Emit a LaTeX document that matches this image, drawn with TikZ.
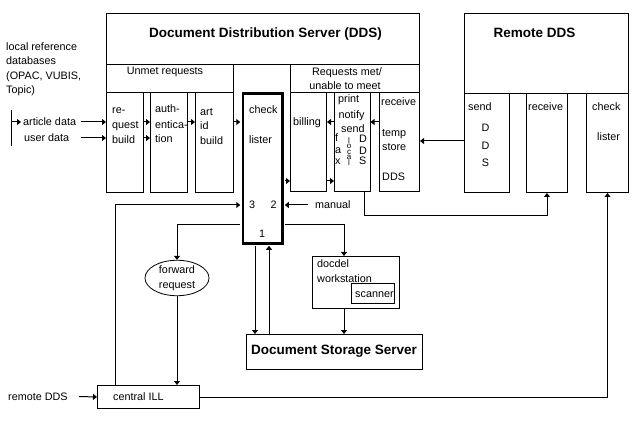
\documentclass[tikz,border=0pt]{standalone}
\usepackage{fontspec}
\setmainfont{Liberation Sans}
\usetikzlibrary{arrows.meta,shapes.geometric}
\newcommand{\vstack}[1]{\vbox{\baselineskip=5.6pt\lineskiplimit=-20pt\relax #1}}
\newcommand{\vch}[1]{\hbox to 5pt{\hss #1\hss}}
\tikzset{
  box/.style={draw, line width=1pt, anchor=north west, inner sep=0pt},
  thickbox/.style={draw, line width=2.6pt, anchor=north west, inner sep=0pt},
  txt/.style={anchor=base west, inner sep=0pt, font=\fontsize{10.8}{13}\selectfont},
  ctxt/.style={anchor=base, inner sep=0pt, font=\fontsize{10.8}{13}\selectfont},
  vtxt/.style={anchor=north, inner sep=0pt, font=\fontsize{8}{9}\selectfont},
  ttl/.style={anchor=base, inner sep=0pt, font=\fontsize{13.5}{16}\selectfont\bfseries},
  conn/.style={line width=1pt},
  arr/.style={line width=1pt, -{Triangle[length=4pt,width=6pt]}},
}
\begin{document}
\begin{tikzpicture}[x=1pt,y=-1pt]
\useasboundingbox (0,0) rectangle (640,422);
% ---------- DDS ----------
\node[box, minimum width=313, minimum height=51] (dds) at (106,13) {};
\node[ttl] (ddst) at (265.5,37.5) {Document Distribution Server (DDS)};
\node[box, minimum width=127, minimum height=28] (unmet) at (106,64) {};
\node[ctxt] (unmett) at (165,75) {Unmet requests};
\node[box, minimum width=129, minimum height=28] (reqmet) at (290,64) {};
\node[ctxt] (reqmett1) at (347,76) {Requests met/};
\node[ctxt] (reqmett2) at (345,90) {unable to meet};
\node[box, minimum width=37, minimum height=100] (reqb) at (106,92) {};
\node[txt] (reqb1) at (112,114) {re-};
\node[txt] (reqb2) at (112,129) {quest};
\node[txt] (reqb3) at (112,144) {build};
\node[box, minimum width=37, minimum height=100] (auth) at (150,92) {};
\node[txt] (auth1) at (155,113) {auth-};
\node[txt] (auth2) at (155,129) {entica-};
\node[txt] (auth3) at (155,143) {tion};
\node[box, minimum width=38, minimum height=100] (artid) at (195,92) {};
\node[txt] (artid1) at (200,116) {art};
\node[txt] (artid2) at (200,130) {id};
\node[txt] (artid3) at (200,145) {build};
\node[thickbox, minimum width=39.5, minimum height=150] (check) at (241.5,92) {};
\node[txt] (check1) at (249,114) {check};
\node[txt] (check2) at (249,144) {lister};
\node[txt] (n3) at (249,209) {3};
\node[txt] (n2) at (270.5,209) {2};
\node[txt] (n1) at (259,237) {1};
\node[box, minimum width=36, minimum height=99] (bill) at (290,92) {};
\node[txt] (bill1) at (293,126) {billing};
\node[box, minimum width=35.5, minimum height=99] (print) at (334,92) {};
\node[txt] (pr1) at (338,103) {print};
\node[txt] (pr2) at (338.5,119) {notify};
\node[txt] (pr3) at (341,133) {send};
\node[txt] (prf) at (335,142) {f};
\node[txt] (pra) at (335,154) {a};
\node[txt] (prx) at (335,165) {x};
\node[vtxt] (plocal) at (349,137.2) {\vstack{\vch{l}\vch{o}\vch{c}\vch{a}\vch{l}}};
\node[txt] (pd1) at (359,143) {D};
\node[txt] (pd2) at (359,155) {D};
\node[txt] (pd3) at (359,165) {S};
\node[box, minimum width=40, minimum height=99] (recv) at (379,92) {};
\node[txt] (recv1) at (381,106) {receive};
\node[txt] (recv2) at (382,137) {temp};
\node[txt] (recv3) at (382,151) {store};
\node[txt] (recv4) at (382,181) {DDS};
% ---------- Remote DDS ----------
\node[box, minimum width=164, minimum height=80] (rdds) at (464,13) {};
\node[ttl] (rddst) at (534.5,37.5) {Remote DDS};
\node[box, minimum width=45, minimum height=99] (rsend) at (464,93) {};
\node[txt] (rsend1) at (468,111) {send};
\node[ctxt] (rsend2) at (485.5,132) {D};
\node[ctxt] (rsend3) at (485.5,150) {D};
\node[ctxt] (rsend4) at (485.5,167) {S};
\node[box, minimum width=41, minimum height=99] (rrecv) at (526,93) {};
\node[txt] (rrecv1) at (528,111) {receive};
\node[box, minimum width=42, minimum height=99] (rcheck) at (586,93) {};
\node[txt] (rcheck1) at (592,111) {check};
\node[txt] (rcheck2) at (597,141) {lister};
% ---------- left texts ----------
\node[txt] (loc1) at (6,51) {local reference};
\node[txt] (loc2) at (6,65) {databases};
\node[txt] (loc3) at (6,80) {(OPAC, VUBIS,};
\node[txt] (loc4) at (6,94) {Topic)};
\node[txt] (adt) at (23,126) {article data};
\node[txt] (udt) at (24,142) {user data};
\node[txt] (manual) at (315,209) {manual};
\node[txt] (rdt) at (8,400) {remote DDS};
% ---------- lower part ----------
\node[draw, line width=0.8pt, ellipse, inner sep=0pt, minimum width=64, minimum height=32,
      align=center, font=\fontsize{10.8}{15}\selectfont] (fwd) at (177,278) {forward\\request};
\node[box, minimum width=87, minimum height=52] (docdel) at (312,256) {};
\node[txt] (docdel1) at (317,267) {docdel};
\node[txt] (docdel2) at (317,282) {workstation};
\node[box, minimum width=43, minimum height=20] (scan) at (351,283) {};
\node[txt] (scan1) at (355,297) {scanner};
\node[box, minimum width=176, minimum height=35] (dss) at (246,334) {};
\node[ttl] (dsst) at (334,354) {Document Storage Server};
\node[box, minimum width=102, minimum height=23] (ill) at (97,385) {};
\node[txt] (ill1) at (113,400) {central ILL};
% ---------- helper coordinates ----------
\coordinate (yA) at (0,122);
\coordinate (yU) at (0,138);
\coordinate (yB) at (0,181);
\coordinate (yR) at (0,141);
\coordinate (y3) at (0,205);
\coordinate (yL) at (0,225);
\coordinate (yP) at (0,216);
\coordinate (xP) at (364,0);
\coordinate (xI) at (115,0);
\coordinate (xD) at (344,0);
\coordinate (xC1) at (255,0);
\coordinate (xC2) at (269,0);
\coordinate (bartop) at (11,110);
\coordinate (barbot) at (11,146);
\coordinate (adarr) at (21,122);
\coordinate (adend) at (81,122);
\coordinate (udend) at (81,138);
\coordinate (mstart) at (308,205);
\coordinate (rdend) at (79,396.5);
% ---------- connectors ----------
\draw[conn] (bartop) -- (barbot);
\draw[arr] (bartop |- yA) -- (adarr);
\draw[arr] (adend) -- (reqb.west |- yA);
\draw[arr] (udend) -- (reqb.west |- yU);
\draw[arr] (reqb.east |- yA) -- (auth.west |- yA);
\draw[arr] (reqb.east |- yU) -- (auth.west |- yU);
\draw[arr] (auth.east |- yA) -- (artid.west |- yA);
\draw[arr, shorten >=1.2pt] (artid.east |- yA) -- (check.west |- yA);
\draw[arr, shorten <=1.2pt] (check.east |- yB) -- (bill.west |- yB);
\draw[arr] (bill.east |- yB) -- (print.west |- yB);
\draw[arr] (print.west |- yA) -- (bill.east |- yA);
\draw[arr] (recv.west |- yA) -- (print.east |- yA);
\draw[arr] (rsend.west |- yR) -- (recv.east |- yR);
\draw[arr] (print.south -| xP) -- (xP |- yP) -| (rrecv.south);
\draw[arr, shorten >=1.2pt] (mstart) -- (check.east |- y3);
\draw[arr, shorten >=1.2pt] (ill.north -| xI) |- (check.west |- y3);
\draw[arr, shorten <=1.2pt] (check.west |- yL) -| (fwd.north);
\draw[arr] (fwd.south) -- (ill.north -| fwd.south);
\draw[arr, shorten <=1.2pt] (check.east |- yL) -| (docdel.north -| xD);
\draw[arr] (docdel.south -| xD) -- (dss.north -| xD);
\draw[arr, shorten <=1.2pt] (check.south -| xC1) -- (dss.north -| xC1);
\draw[arr, shorten >=1.2pt] (dss.north -| xC2) -- (check.south -| xC2);
\draw[arr] (ill.east) -| (rcheck.south);
\draw[arr] (rdend) -- (ill.west);
\end{tikzpicture}
\end{document}
